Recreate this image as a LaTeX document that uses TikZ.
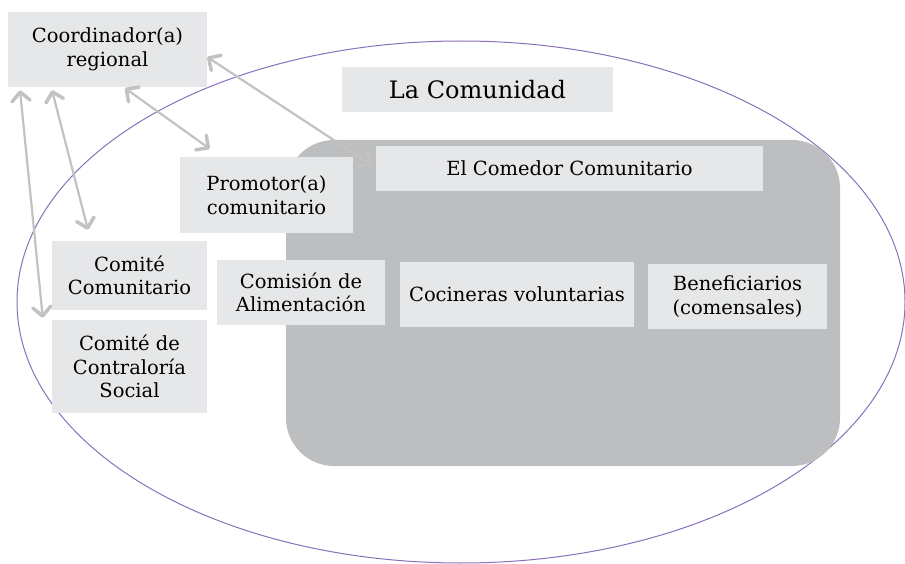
\documentclass[tikz,border=0pt]{standalone}
\usepackage{fontspec}
\setmainfont{DejaVu Serif}
\usetikzlibrary{arrows.meta}
\definecolor{boxgray}{HTML}{E6E7E8}
\definecolor{biggray}{HTML}{BDBEC0}
\definecolor{arrgray}{HTML}{C2C2C2}
\definecolor{ellpurple}{HTML}{8A70BC}
\begin{document}
\begin{tikzpicture}[x=1pt,y=-1pt,
  lbox/.style={fill=boxgray, inner sep=0pt, align=center, text=black, font=\fontsize{19.5}{23.5}\selectfont},
  link/.style={draw=arrgray, line width=2.2pt,
    {Straight Barb[length=9pt,width=18pt,line width=3.5pt,round]}-{Straight Barb[length=9pt,width=18pt,line width=3.5pt,round]}}
]
\useasboundingbox (0,0) rectangle (905,564);
% community ellipse
\draw[ellpurple, line width=1pt] (461,302) ellipse [x radius=444, y radius=261];
% comedor area
\fill[biggray, rounded corners=48pt] (286,140) rectangle (840,466);
% boxes
\node[lbox, minimum width=199pt, minimum height=75pt] (coord) at (107.5,49.5) {Coordinador(a)\\regional};
\node[lbox, minimum width=271pt, minimum height=45pt, font=\fontsize{24}{28}\selectfont] (comunidad) at (477.5,89.5) {La Comunidad};
\node[lbox, minimum width=173pt, minimum height=76pt] (promotor) at (266.5,195) {Promotor(a)\\comunitario};
\node[lbox, minimum width=387pt, minimum height=45pt] (comedor) at (569.5,168.5) {El Comedor Comunitario};
\node[lbox, minimum width=155pt, minimum height=69pt] (comitecom) at (129.5,275.5) {Comité\\Comunitario};
\node[lbox, minimum width=155pt, minimum height=93pt] (contraloria) at (129.5,366.5) {Comité de\\Contraloría\\Social};
\node[lbox, minimum width=168pt, minimum height=65pt] (comision) at (301,292.5) {Comisión de\\Alimentación};
\node[lbox, minimum width=234pt, minimum height=65pt] (cocineras) at (517,294.5) {Cocineras voluntarias};
\node[lbox, minimum width=179pt, minimum height=65pt] (benef) at (737.5,296.5) {Beneficiarios\\(comensales)};
% connectors
\draw[link] ([yshift=-7.5pt]coord.east) -- ([xshift=-4pt,yshift=3.5pt]comedor.west);
\draw[link] ([xshift=17.5pt,yshift=-1pt]coord.south) -- ([xshift=30pt,yshift=8pt]promotor.north west);
\draw[link] ([xshift=-55.5pt,yshift=-3pt]coord.south) -- ([xshift=-41.5pt,yshift=11pt]comitecom.north);
\draw[link] ([xshift=-87.5pt,yshift=-3pt]coord.south) -- ([xshift=-9pt,yshift=2pt]contraloria.north west);
\end{tikzpicture}
\end{document}
